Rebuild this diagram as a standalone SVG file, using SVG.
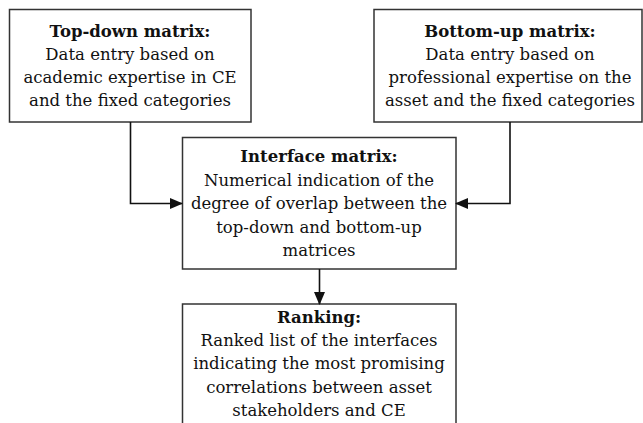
<svg xmlns="http://www.w3.org/2000/svg" width="643" height="423" viewBox="0 0 643 423">
<style>
.box{fill:#fff;stroke:#333;stroke-width:1.5}
text{font-family:"DejaVu Serif","Liberation Serif",serif;font-size:16.5px;fill:#111;text-anchor:middle}
.b{font-weight:bold}
.c{fill:none;stroke:#111;stroke-width:1.6}
</style>
<defs>
<marker id="ah" markerWidth="13" markerHeight="11" refX="12" refY="5.5" orient="auto" markerUnits="userSpaceOnUse">
<path d="M0,0 L13,5.5 L0,11 Z" fill="#111"/>
</marker>
</defs>
<rect width="643" height="423" fill="#fff"/>
<g id="topdown">
<rect class="box" x="9.5" y="9.5" width="241.5" height="112.5"/>
<text x="130" y="37" class="b">Top-down matrix:</text>
<text x="130" y="60">Data entry based on</text>
<text x="130" y="83">academic expertise in CE</text>
<text x="130" y="106">and the fixed categories</text>
</g>
<g id="bottomup">
<rect class="box" x="374" y="9.5" width="268" height="112.5"/>
<text x="510" y="37" class="b">Bottom-up matrix:</text>
<text x="510" y="60">Data entry based on</text>
<text x="510" y="83">professional expertise on the</text>
<text x="510" y="106">asset and the fixed categories</text>
</g>
<g id="interface">
<rect class="box" x="182.5" y="137.5" width="273.5" height="131.5"/>
<text x="319" y="162" class="b">Interface matrix:</text>
<text x="319" y="186">Numerical indication of the</text>
<text x="319" y="209">degree of overlap between the</text>
<text x="319" y="233">top-down and bottom-up</text>
<text x="319" y="256">matrices</text>
</g>
<g id="ranking">
<rect class="box" x="182.5" y="304" width="273.5" height="130"/>
<text x="319" y="323" class="b">Ranking:</text>
<text x="319" y="346">Ranked list of the interfaces</text>
<text x="319" y="369">indicating the most promising</text>
<text x="319" y="393">correlations between asset</text>
<text x="319" y="416">stakeholders and CE</text>
</g>
<g id="connectors">
<path class="c" d="M130.5,122 V203.5 H182" marker-end="url(#ah)"/>
<path class="c" d="M510,122 V203.5 H456" marker-end="url(#ah)"/>
<path class="c" d="M319.5,269 V304" marker-end="url(#ah)"/>
</g>
</svg>
